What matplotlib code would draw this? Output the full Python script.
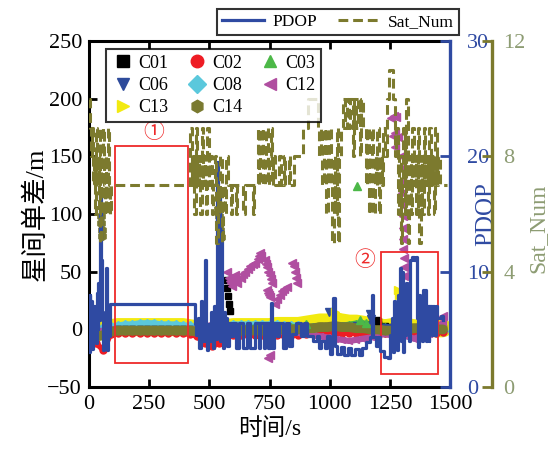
import matplotlib
matplotlib.use("Agg")
import matplotlib.pyplot as plt
from matplotlib.lines import Line2D
from matplotlib.patches import Rectangle

# ---------------- data ----------------
band_t = [0, 30, 60, 90, 120, 150, 180, 210, 240, 270, 300, 330, 360, 390, 420,
          450, 480, 510, 540, 570, 600, 630, 660, 690, 720, 750, 780, 810, 840, 870,
          900, 930, 960, 990, 1020, 1050, 1080, 1110, 1140, 1170, 1200, 1230, 1260,
          1290, 1320, 1350, 1380, 1410, 1440, 1470]
c01 = [-3, -3, -3, -1, 0, 0, 0, 0, 0, 0, 0, 0, 0, 0, 0,
       -1, -2, -2, -1, 2, 1, 1, 1, 1, 1, 1, 1, 1, 1, 1,
       2, 2, 3, 3, 3, 3, 3, 3, 4, 5, 5, 3, 2, 2, 2, 2, 2, 1, 1, 1]
c02 = [-10, -12, -18, -4, -3, -3, -3, -3, -3, -3, -3, -3, -3, -3, -4,
       -6, -12, -14, -12, -6, -5, -5, -5, -5, -5, -5, -5, -5, -5, -5,
       -4, -3, -3, -3, -3, -3, -3, -3, -3, -3, -3, -3, -3, -3, -3, -3, -3, -3, -3, -2]
c03 = [-2, -2, -1, 0, 0, 0, 0, 0, 0, 0, 0, 0, 0, 0, 0,
       0, -1, -1, 0, 1, 2, 2, 2, 2, 2, 2, 2, 2, 3, 3,
       3, 3, 3, 3, 4, 4, 5, 6, 6, 5, 4, 3, 2, 2, 2, 2, 1, 1, 1, 1]
c06 = [-4, -4, -3, -1, 0, 0, 0, 0, 0, 0, 0, 0, 0, 0, 0,
       -1, -2, -2, -1, 0, 0, 0, 0, 0, 0, 0, 0, 0, 0, 0,
       1, 1, 2, 2, 3, 3, 3, 4, 4, 4, 3, 2, 2, 1, 1, 1, 0, 0, 0, 0]
c08 = [-2, -1, 1, 2, 3, 4, 4, 5, 5, 5, 4, 4, 4, 3, 3,
       1, -1, 0, 1, 3, 4, 4, 4, 4, 4, 4, 4, 3, 3, 3,
       2, 1, 1, 1, 1, 1, 1, 1, 0, 0, -1, -2, -3, -3, -4, -6, -5, -3, -2, -1]
c12 = [-2, -2, -1, 0, 0, 0, 0, 0, 0, 0, 0, 0, 0, 0, 0,
       0, 2, 4, 3, 1, 0, 0, 0, 0, 0, -1, -1, -2, -2, -3,
       -4, -5, -6, -7, -8, -9, -10, -9, -8, -7, -5, -4, -3, -4, -6, -8, -6, -4, 0, 6]
c13 = [-4, -3, 0, 1, 2, 2, 2, 2, 2, 2, 2, 2, 2, 2, 1,
       0, -3, -2, -1, 1, 2, 2, 2, 2, 2, 2, 3, 3, 3, 3,
       4, 5, 6, 6, 7, 6, 5, 5, 4, 3, 2, 1, 2, 3, 2, 1, 1, 2, 1, 1]
c14 = [-5, -6, -5, -2, -1, -1, -1, -1, -1, -1, -1, -1, -1, -1, -1,
       -2, -3, -3, -3, -1, -1, -1, -1, -1, -1, -1, 0, 0, 0, 0,
       1, 1, 2, 2, 3, 2, 2, 1, 1, 0, 0, -1, -1, 0, 0, 1, 1, 1, 0, 0]

# outlying single-difference points
c01_out_t = [572, 575, 578, 581, 584, 1195, 1200]
c01_out_v = [43, 36, 29, 22, 16, 8, 7]
c03_out_t = [1113, 1125, 1150, 900]
c03_out_v = [124, 8, 6, 5]
c06_out_t = [997, 1167, 1172]
c06_out_v = [15, 13, 9]
c13_out_t = [1283, 1286, 1020, 1030]
c13_out_v = [34, 30, 15, 13]
c14_out_t = [50, 52, 54, 56, 535, 538, 541, 544, 547]
c14_out_v = [98, 92, 86, 81, 104, 98, 92, 86, 80]
c12_out_t = [575, 580, 585, 590, 595, 600, 605, 610, 615,
             630, 640, 650, 660, 670, 680, 690, 700, 705, 710, 715,
             730, 735, 740, 745, 750, 755, 760, 738, 742, 746, 750, 745, 751,
             772, 782, 792, 802, 812, 822, 845, 850, 855, 860, 865,
             1255, 1265, 1275, 1262, 1272, 1282, 1270,
             1296, 1298, 1300, 1301, 1302, 1303, 1304, 1305, 1306, 1307, 1308,
             1310, 1312, 1314, 1316, 1318, 1470]
c12_out_v = [50, 45, 42, 40, 38, 44, 47, 43, 40,
             45, 48, 50, 52, 55, 57, 58, 61, 64, 66, 64,
             60, 57, 54, 50, 47, 44, 40, 34, 32, 30, 28, -25, -22,
             22, 26, 30, 33, 35, 37, 58, 55, 50, 45, 40,
             183, 185, 184, 168, 170, 167, 158,
             150, 140, 128, 118, 108, 98, 88, 78, 70, 62, 54,
             46, 38, 30, 22, 14, 12]

# PDOP (step line, right axis 1)
pdop_t = [0, 3, 6, 9, 12, 15, 18, 21, 24, 27, 30, 33, 36, 39, 42, 45, 48, 51, 54,
          57, 60, 63, 66, 70, 74, 78, 82, 87,
          440, 446, 452, 458, 464, 470, 476, 480, 485, 490, 496, 502, 508, 514,
          520, 526, 530, 535, 539, 543, 547, 551, 555, 560, 565, 570, 575, 580,
          590, 598, 612, 625, 640, 655, 668, 690, 705, 712, 725, 732, 745, 752,
          758, 762, 770, 780, 790, 805, 818, 830, 845, 860, 880, 892, 905, 930,
          945, 955, 965, 980, 990, 1000, 1008, 1015, 1020, 1030, 1045, 1060,
          1075, 1090, 1105, 1120, 1135, 1150, 1165, 1175, 1180, 1190, 1200,
          1210, 1225, 1240, 1250, 1255, 1260, 1264, 1268, 1272, 1276, 1280,
          1284, 1288, 1292, 1296, 1300, 1304, 1308, 1312, 1316, 1320, 1326,
          1330, 1334, 1340, 1350, 1356, 1362, 1366, 1370, 1374, 1378, 1382,
          1386, 1392, 1396, 1400, 1404, 1410, 1414, 1420, 1424, 1428, 1434,
          1440, 1446, 1460, 1470]
pdop_v = [3.0, 8.0, 4.5, 7.5, 3.3, 6.2, 4.0, 7.0, 4.8, 6.5, 3.8, 8.2, 5.0, 9.0,
          5.8, 12.5, 17.0, 11.0, 6.5, 3.8, 3.2, 5.0, 4.0, 10.3, 3.2, 6.0, 4.4, 7.2,
          5.5, 4.5, 6.0, 3.4, 7.5, 4.0, 5.0, 11.0, 4.0, 3.2, 5.5, 4.0, 6.5, 3.4,
          7.0, 4.2, 19.5, 8.0, 17.0, 4.0, 13.5, 5.0, 3.4, 6.5, 4.5, 6.0, 3.6, 5.6,
          4.4, 5.6, 3.4, 5.6, 3.4, 5.6, 3.4, 5.6, 3.4, 5.6, 3.4, 5.6, 3.4, 5.6,
          7.3, 3.4, 5.6, 4.4, 5.6, 3.4, 5.6, 3.6, 4.6, 5.6, 4.4, 5.6, 4.4, 4.0,
          4.4, 3.4, 4.0, 3.4, 4.4, 2.9, 4.0, 7.7, 3.6, 2.9, 3.5, 2.8,
          3.4, 2.8, 3.3, 2.8, 3.4, 3.9, 4.3, 8.0, 4.3, 3.6, 4.3,
          3.1, 2.6, 2.5, 4.5, 3.2, 6.0, 3.0, 7.5, 4.0, 6.5, 3.2,
          8.0, 4.5, 10.3, 4.0, 10.0, 3.0, 7.0, 4.5, 9.0, 5.0, 6.5,
          4.0, 11.0, 11.3, 11.0, 11.3, 6.0, 3.5, 8.0, 4.5, 7.0, 4.0,
          8.4, 5.0, 8.4, 4.0, 7.0, 4.0, 7.0, 7.0, 4.5, 7.0, 4.5,
          7.0, 6.0, 6.2, 5.8]

# Number of satellites (step line, right axis 2)
sat_t = [0, 4, 8, 12, 16, 20, 24, 28, 32, 36, 40, 44, 48, 52, 56, 60, 64, 68, 72,
         76, 80, 84, 88, 92,
         420, 426, 432, 438, 444, 450, 456, 462, 468, 474, 480, 486, 492, 498,
         504, 510, 516, 522, 528, 534, 540, 546, 552, 558, 564, 570, 576, 590,
         596, 610, 616, 640, 646, 680, 686, 700, 706, 712, 718, 724, 730, 736,
         742, 748, 754, 760, 766, 772, 790, 796, 810, 816, 830, 836, 850, 870,
         890, 910, 950, 956, 962, 968, 974, 980, 986, 992, 998, 1004, 1010,
         1016, 1022, 1028, 1034, 1040, 1046, 1055, 1065, 1070, 1080, 1086,
         1095, 1100, 1110, 1116, 1125, 1131, 1140, 1150, 1156, 1162, 1168,
         1174, 1180, 1186, 1192, 1198, 1204, 1210, 1216, 1222, 1230, 1238,
         1246, 1262, 1270, 1276, 1282, 1288, 1294, 1300, 1306, 1312, 1318,
         1324, 1330, 1336, 1342, 1348, 1354, 1360, 1366, 1372, 1378, 1384,
         1390, 1396, 1402, 1408, 1414, 1420, 1426, 1432, 1438, 1444, 1450,
         1456, 1485]
sat_v = [10, 9, 8, 9, 7, 8, 6, 9, 7, 8, 6, 9, 5, 8, 6, 9, 7, 6, 8,
         6, 9, 7, 6, 7,
         9, 7, 8, 6, 9, 7, 8, 6, 9, 7, 8, 6, 9, 7,
         8, 6, 7, 8, 5, 7, 6, 8, 5, 7, 6, 8, 7, 6,
         7, 6, 7, 6, 7, 6, 7, 9, 7, 8, 9, 7, 8, 9,
         7, 8, 9, 7, 8, 7, 8, 7, 8, 7, 8, 7, 8, 8,
         9, 10, 9, 8, 9, 7, 8, 9, 6, 8, 9, 7, 5,
         8, 6, 9, 5, 8, 9, 10, 9, 10, 9, 10,
         8, 10, 9, 10, 8, 10, 9, 7, 9, 6, 8,
         9, 6, 8, 7, 9, 6, 8, 7, 9, 8, 10,
         11, 10, 8, 9, 6, 8, 5, 7, 9, 6, 10,
         5, 8, 6, 9, 7, 8, 6, 9, 5, 8, 6,
         9, 7, 8, 6, 9, 7, 8, 6, 9, 7, 8,
         7, 7]

box1 = (108, -29, 412, 159)   # t0, v0, t1, v1
box2 = (1211, -39, 1451, 67)

# ---------------- styling ----------------
SERIF = ['Liberation Serif', 'DejaVu Serif']
CJK = ['Liberation Serif', 'Noto Sans CJK SC']
plt.rcParams['font.family'] = SERIF

BLUE = '#2f4aa2'
OLIVE = '#7c7a2e'
SATLBL = '#8d9c73'

colors = {'C01': '#000000', 'C02': '#ee1c24', 'C03': '#4cb848', 'C06': '#2e4b9b',
          'C08': '#5bc8dc', 'C12': '#b04ea0', 'C13': '#f2ea10', 'C14': '#7a7a30'}
markers = {'C01': 's', 'C02': 'o', 'C03': '^', 'C06': 'v', 'C08': 'D',
           'C12': '<', 'C13': '>', 'C14': 'h'}

fig = plt.figure(figsize=(5.49, 4.57), dpi=100)
ax = fig.add_axes([0.162, 0.153, 0.658, 0.757])

band_series = [('C13', c13, 13.0), ('C08', c08, 5.0), ('C02', c02, 4.0),
               ('C01', c01, 3.0), ('C03', c03, 3.0), ('C06', c06, 3.0),
               ('C12', c12, 4.5), ('C14', c14, 7.0)]
for name, vals, lw in band_series:
    ax.plot(band_t, vals, color=colors[name], lw=lw, marker=markers[name], ms=5,
            solid_joinstyle='round', solid_capstyle='round', zorder=2)

outs = [('C01', c01_out_t, c01_out_v), ('C03', c03_out_t, c03_out_v),
        ('C06', c06_out_t, c06_out_v), ('C13', c13_out_t, c13_out_v),
        ('C14', c14_out_t, c14_out_v), ('C12', c12_out_t, c12_out_v)]
for name, tt, vv in outs:
    ms = 4 if name == 'C01' else 6
    ax.plot(tt, vv, ls='none', marker=markers[name], ms=ms, color=colors[name],
            zorder=3)

for (t0, v0, t1, v1) in (box1, box2):
    ax.add_patch(Rectangle((t0, v0), t1 - t0, v1 - v0, fill=False,
                           edgecolor='#ee2a2a', lw=1.3, zorder=6))
ax.text(270, 171, '①', color='#ee2a2a', fontsize=15, ha='center', va='center',
        family=['Noto Sans CJK SC', 'DejaVu Sans'], zorder=6)
ax.text(1146, 60, '②', color='#ee2a2a', fontsize=15, ha='center', va='center',
        family=['Noto Sans CJK SC', 'DejaVu Sans'], zorder=6)

ax.set_xlim(0, 1500)
ax.set_ylim(-50, 250)
ax.set_xticks([0, 250, 500, 750, 1000, 1250, 1500])
ax.set_yticks([-50, 0, 50, 100, 150, 200, 250])
ax.tick_params(direction='in', length=6, width=2, top=True, right=False,
               labelsize=16, pad=5)
ax.tick_params(axis='x', pad=6)
for s in ('left', 'bottom', 'top'):
    ax.spines[s].set_linewidth(2.2)
ax.spines['right'].set_visible(False)
ax.set_xlabel('时间/s', fontsize=17, family=CJK, labelpad=3)
ax.set_ylabel('星间单差/m', fontsize=19, family=CJK, labelpad=0)

# PDOP axis
ax2 = ax.twinx()
ax2.step(pdop_t, pdop_v, where='post', color=BLUE, lw=2.3)
ax2.set_ylim(0, 30)
ax2.set_yticks([0, 10, 20, 30])
for s in ('left', 'bottom', 'top'):
    ax2.spines[s].set_visible(False)
ax2.spines['right'].set_color(BLUE)
ax2.spines['right'].set_linewidth(2.4)
ax2.tick_params(axis='y', direction='in', length=7, width=2, colors=BLUE,
                labelsize=16, pad=12)
ax2.set_ylabel('PDOP', color=BLUE, fontsize=18)
ax2.yaxis.set_label_coords(1.068, 0.50)

# satellite number axis
ax3 = ax.twinx()
ax3.step(sat_t, sat_v, where='post', color=OLIVE, lw=2.2, dashes=(3.2, 1.6))
ax3.set_ylim(0, 12)
ax3.set_yticks([0, 4, 8, 12])
for s in ('left', 'bottom', 'top'):
    ax3.spines[s].set_visible(False)
ax3.spines['right'].set_position(('axes', 1.116))
ax3.spines['right'].set_color(OLIVE)
ax3.spines['right'].set_linewidth(2.4)
ax3.tick_params(axis='y', direction='in', length=7, width=2, color=OLIVE,
                labelcolor=SATLBL, labelsize=16, pad=8)
ax3.set_ylabel('Sat_Num', color=SATLBL, fontsize=17)
ax3.yaxis.set_label_coords(1.213, 0.46)

# legends (row-wise reading order C01 C02 C03 / C06 C08 C12 / C13 C14)
order = ['C01', 'C06', 'C13', 'C02', 'C08', 'C14', 'C03', 'C12']
handles = [Line2D([], [], ls='none', marker=markers[n], color=colors[n], ms=9)
           for n in order]
leg1 = ax3.legend(handles, order, loc='upper left', bbox_to_anchor=(0.047, 0.977),
                  ncol=3, fontsize=13, frameon=True, fancybox=False,
                  edgecolor='black', handletextpad=0.2, columnspacing=0.9,
                  borderpad=0.3, labelspacing=0.3, handlelength=1.3,
                  borderaxespad=0)
leg1.get_frame().set_linewidth(1.5)
leg1.set_zorder(20)
ax3.add_artist(leg1)

lh = [Line2D([], [], color=BLUE, lw=2.3),
      Line2D([], [], color=OLIVE, lw=2.2, dashes=(3.2, 1.6))]
leg2 = ax3.legend(lh, ['PDOP', 'Sat_Num'], loc='lower right',
                  bbox_to_anchor=(1.025, 1.017), ncol=2, fontsize=12.5,
                  frameon=True, fancybox=False, edgecolor='black',
                  handlelength=2.4, borderpad=0.3, columnspacing=1.2,
                  handletextpad=0.5, borderaxespad=0)
leg2.get_frame().set_linewidth(1.5)

fig.savefig('out.png', dpi=100)
